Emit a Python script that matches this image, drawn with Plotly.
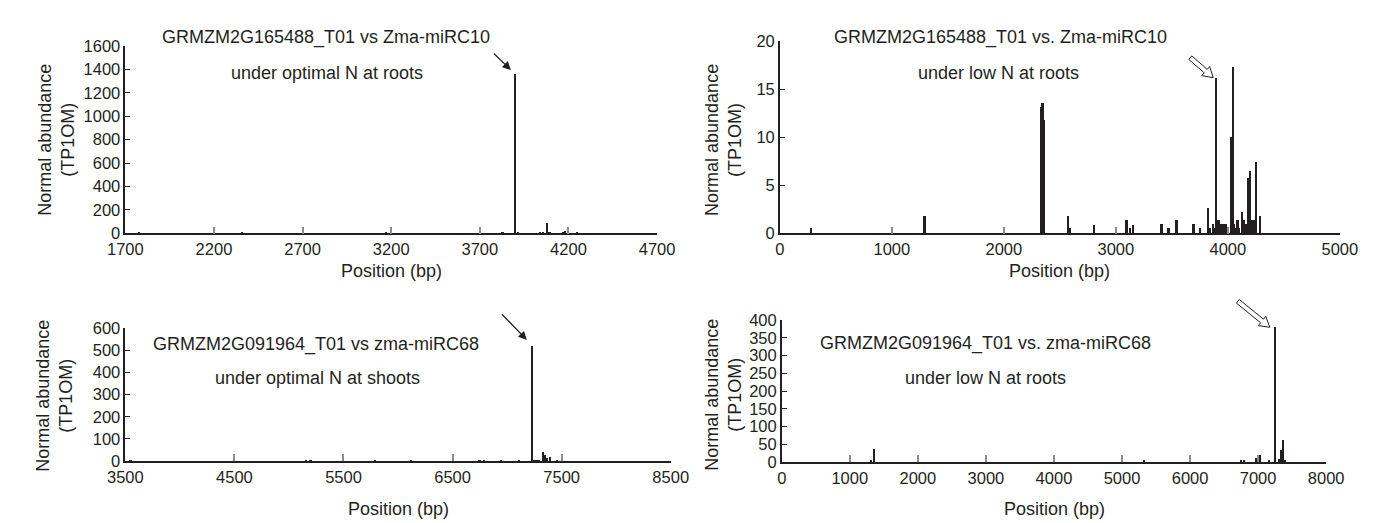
import math
import plotly.graph_objects as go

# ---------------- data ----------------
# Panel A: GRMZM2G165488_T01 vs Zma-miRC10, optimal N, roots
pos_a = [1780, 2360, 3170, 3830, 3900, 3915, 4040, 4060, 4080, 4095, 4170, 4180, 4250]
val_a = [8, 6, 10, 6, 1360, 5, 8, 12, 90, 10, 10, 20, 8]
ticks_a = [1700, 2200, 2700, 3200, 3700, 4200, 4700]
yticks_a = [0, 200, 400, 600, 800, 1000, 1200, 1400, 1600]

# Panel B: GRMZM2G165488_T01 vs. Zma-miRC10, low N, roots
pos_b = [277, 1292, 2335, 2347, 2359, 2571, 2589, 2806, 3096, 3125, 3154, 3407, 3472, 3541,
         3694, 3751, 3821, 3838, 3866, 3884, 3897, 3916, 3944, 3963, 3982, 3998, 4027, 4046,
         4057, 4076, 4088, 4103, 4126, 4141, 4165, 4181, 4196, 4212, 4230, 4250, 4288]
val_b = [0.5, 1.8, 13.1, 13.5, 11.8, 1.8, 0.5, 0.9, 1.4, 0.5, 0.9, 1.0, 0.5, 1.4,
         1.0, 0.5, 2.6, 0.5, 1.0, 0.5, 16.2, 1.4, 1.0, 1.0, 1.0, 0.5, 10.0, 17.3,
         1.0, 0.5, 1.4, 0.5, 2.2, 1.4, 1.0, 5.7, 6.5, 1.4, 1.4, 7.4, 1.8]
ticks_b = [0, 1000, 2000, 3000, 4000, 5000]
yticks_b = [0, 5, 10, 15, 20]

# Panel C: GRMZM2G091964_T01 vs zma-miRC68, optimal N, shoots
pos_c = [3550, 5160, 5200, 5790, 6120, 6750, 6790, 6950, 7110, 7232, 7250, 7270, 7290,
         7330, 7350, 7370, 7395, 7460]
val_c = [3, 4, 3, 3, 3, 3, 3, 3, 3, 520, 5, 5, 5, 40, 30, 15, 20, 5]
ticks_c = [3500, 4500, 5500, 6500, 7500, 8500]
yticks_c = [0, 100, 200, 300, 400, 500, 600]

# Panel D: GRMZM2G091964_T01 vs. zma-miRC68, low N, roots
pos_d = [1313, 1357, 5325, 6745, 6788, 6963, 7016, 7153, 7245, 7298, 7330, 7360, 7390]
val_d = [4, 37, 3, 4, 4, 12, 20, 5, 380, 8, 35, 62, 5]
ticks_d = [0, 1000, 2000, 3000, 4000, 5000, 6000, 7000, 8000]
yticks_d = [0, 50, 100, 150, 200, 250, 300, 350, 400]

# peaks marked by arrows (position in bp)
peak_a, peak_b, peak_c, peak_d = 3900, 3897, 7232, 7245

titles = ["GRMZM2G165488_T01 vs Zma-miRC10", "GRMZM2G165488_T01 vs. Zma-miRC10",
          "GRMZM2G091964_T01 vs zma-miRC68", "GRMZM2G091964_T01 vs. zma-miRC68"]
subtitles = ["under optimal N at roots", "under low N at roots",
             "under optimal N at shoots", "under low N at roots"]
y_title = "Normal abundance<br>(TP1OM)"
x_title = "Position (bp)"

# ---------------- style / layout ----------------
W, H = 1380, 523
INK = "#231f20"
FONT = "Liberation Sans, Arial, Helvetica, sans-serif"


def fx(p):
    return p / W


def fy(p):
    return (H - p) / H


panels = [
    dict(pos=pos_a, val=val_a, xt=ticks_a, yt=yticks_a, box=(102, 648, 30, 224), bw=12, peak=peak_a),
    dict(pos=pos_b, val=val_b, xt=ticks_b, yt=yticks_b, box=(774, 1349, 25, 224), bw=17, peak=peak_b),
    dict(pos=pos_c, val=val_c, xt=ticks_c, yt=yticks_c, box=(102, 662, 322, 460), bw=20, peak=peak_c),
    dict(pos=pos_d, val=val_d, xt=ticks_d, yt=yticks_d, box=(776, 1335, 314, 461), bw=32, peak=peak_d),
]

fig = go.Figure()
layout = dict(width=W, height=H, margin=dict(l=0, r=0, t=0, b=0),
              paper_bgcolor="white", plot_bgcolor="white", showlegend=False,
              font=dict(family=FONT, size=16, color=INK), bargap=0)

annotations = []
shapes = []

for i, p in enumerate(panels):
    n = "" if i == 0 else str(i + 1)
    xa, ya = "x" + n, "y" + n
    x0, x1, top, bot = p["box"]
    fig.add_trace(go.Bar(x=p["pos"], y=p["val"], width=[p["bw"]] * len(p["pos"]),
                         marker=dict(color=INK, line=dict(width=0)),
                         xaxis=xa, yaxis=ya, hoverinfo="x+y"))
    layout["xaxis" + n] = dict(domain=[fx(x0), fx(x1)], anchor=ya,
                               range=[p["xt"][0], p["xt"][-1]], tickvals=p["xt"],
                               showline=True, linecolor=INK, linewidth=1.5,
                               ticks="inside", ticklen=7, tickwidth=1.5, tickcolor="#8c8c8c",
                               showgrid=False, zeroline=False,
                               tickfont=dict(size=16.5, color=INK, family=FONT))
    layout["yaxis" + n] = dict(domain=[fy(bot), fy(top)], anchor=xa,
                               range=[p["yt"][0], p["yt"][-1]], tickvals=p["yt"],
                               showline=True, linecolor=INK, linewidth=1.5,
                               ticks="inside", ticklen=5, tickwidth=1.2, tickcolor=INK,
                               showgrid=False, zeroline=False,
                               tickfont=dict(size=16.5, color=INK, family=FONT))

# text positions (pixel centres)
title_px = [(308, 21), (1001, 21), (298, 339), (985, 338)]
sub_px = [(309, 58), (999, 58), (299, 374), (985, 374)]
ytitle_px = [(31, 127), (716, 127), (29, 392), (716, 391)]
xtitle_px = [(375, 263), (1061, 263), (382, 510), (1056, 510)]

for i in range(4):
    for (px, py), txt, ang in ((title_px[i], titles[i], 0), (sub_px[i], subtitles[i], 0),
                              (ytitle_px[i], y_title, -90), (xtitle_px[i], x_title, 0)):
        annotations.append(dict(x=fx(px), y=fy(py), xref="paper", yref="paper",
                                text=txt, showarrow=False, textangle=ang,
                                xanchor="center", yanchor="middle",
                                font=dict(size=18, color=INK, family=FONT)))

# solid arrows (panels A and C) pointing to the peak
for i, (ax, ay, so) in ((0, (-23, -22, 6)), (2, (-32, -33, 8))):
    p = panels[i]
    k = p["pos"].index(p["peak"])
    n = "" if i == 0 else str(i + 1)
    annotations.append(dict(x=p["pos"][k], y=p["val"][k], xref="x" + n, yref="y" + n,
                            ax=ax, ay=ay, axref="pixel", ayref="pixel", text="",
                            showarrow=True, arrowhead=2, arrowsize=1.3, arrowwidth=1.3,
                            arrowcolor=INK, standoff=so))


# hollow arrows (panels B and D)
def hollow_arrow(tip, tail, shaft=2.3, head_w=6.0, head_l=10.0):
    tx, ty = tip
    dx, dy = tip[0] - tail[0], tip[1] - tail[1]
    L = math.hypot(dx, dy)
    ux, uy = dx / L, dy / L
    nx, ny = -uy, ux
    bx, by = tx - ux * head_l, ty - uy * head_l
    pts = [
        (tail[0] + nx * shaft, tail[1] + ny * shaft),
        (bx + nx * shaft, by + ny * shaft),
        (bx + nx * head_w, by + ny * head_w),
        (tx, ty),
        (bx - nx * head_w, by - ny * head_w),
        (bx - nx * shaft, by - ny * shaft),
        (tail[0] - nx * shaft, tail[1] - ny * shaft),
    ]
    # screen (y down) -> pixel shape coords (y up)
    return "M " + " L ".join(f"{x:.2f},{-y:.2f}" for x, y in pts) + " Z"


for i, (tip, tail) in ((1, ((-3, 0), (-26, -20))), (3, ((-5, 0), (-37, -26)))):
    p = panels[i]
    k = p["pos"].index(p["peak"])
    x0, x1, top, bot = p["box"]
    # peak height converted to paper fraction through the panel's y-domain
    yb, yt = fy(bot), fy(top)
    y_paper = yb + (yt - yb) * (p["val"][k] - p["yt"][0]) / (p["yt"][-1] - p["yt"][0])
    n = str(i + 1)
    shapes.append(dict(type="path", xref="x" + n, yref="paper",
                       xsizemode="pixel", ysizemode="pixel",
                       xanchor=p["pos"][k], yanchor=y_paper,
                       path=hollow_arrow(tip, tail), fillcolor="white",
                       line=dict(color=INK, width=1)))

layout["annotations"] = annotations
layout["shapes"] = shapes
fig.update_layout(**layout)
fig.write_html("out.html")
